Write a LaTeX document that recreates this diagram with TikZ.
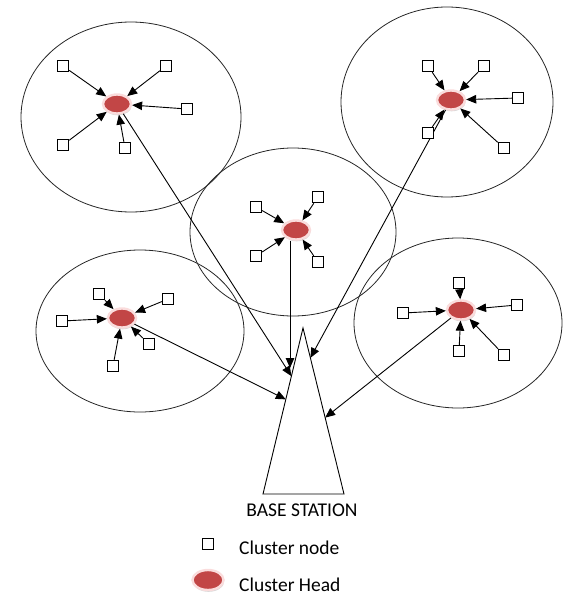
\documentclass[tikz,border=0pt]{standalone}
\usepackage{fontspec}
\setmainfont{Carlito}
\usetikzlibrary{shapes.geometric,arrows.meta,shadows,calc}
\definecolor{chred}{RGB}{194,70,70}
\definecolor{chrim}{RGB}{250,220,220}
\begin{document}
\begin{tikzpicture}[x=1pt,y=-1pt,
  cluster/.style={draw=black!85,line width=0.8pt,ellipse,inner sep=0pt},
  sensor/.style={draw=black,line width=0.9pt,fill=white,minimum width=11.5pt,minimum height=11.5pt,inner sep=0pt},
  chead/.style={ellipse,fill=chred,draw=chrim,line width=2.4pt,minimum width=28pt,minimum height=19pt,inner sep=0pt,
     drop shadow={shadow xshift=0.6pt,shadow yshift=-1.8pt,fill=black!30}},
  arr/.style={draw=black,line width=0.9pt,-{Triangle[length=10pt,width=8.5pt]}},
  lbl/.style={font=\fontsize{19.5}{22}\selectfont,inner sep=0pt}]
\useasboundingbox (0,0) rectangle (563,596);
% cluster areas
\node[cluster,minimum width=220pt,minimum height=190pt] (e1) at (131,117) {};
\node[cluster,minimum width=212pt,minimum height=190pt] (e2) at (447,102) {};
\node[cluster,minimum width=206pt,minimum height=168pt] (e3) at (293,232) {};
\node[cluster,minimum width=208pt,minimum height=162pt] (e4) at (140,331) {};
\node[cluster,minimum width=208pt,minimum height=170pt] (e5) at (458,323) {};
% base station
\coordinate (apex) at (303,328);
\coordinate (bl) at (263,494);
\coordinate (br) at (344,494);
\draw[line width=0.9pt] (apex) -- (bl) -- (br) -- cycle;
\node[lbl] (bs) at (302,510) {BASE STATION};
\coordinate (t1) at ($(apex)!0.29!(bl)$);
\coordinate (t4) at ($(apex)!0.43!(bl)$);
\coordinate (t2) at ($(apex)!0.18!(br)$);
\coordinate (t5) at ($(apex)!0.54!(br)$);
\coordinate (t3) at (290,368);
% cluster heads
\node[chead] (c1) at (117,104) {};
\node[chead] (c2) at (451,100) {};
\node[chead] (c3) at (296,230) {};
\node[chead] (c4) at (122,318) {};
\node[chead] (c5) at (461,310) {};
% heads to base station
\draw[arr] (c1) -- (t1);
\draw[arr] (c2) -- (t2);
\draw[arr] (t3 |- c3.south) -- (t3);
\draw[arr] (c4) -- (t4);
\draw[arr] (c5) -- (t5);
% cluster 1
\node[sensor] (s11) at (63,66) {};
\node[sensor] (s12) at (166,66) {};
\node[sensor] (s13) at (187,109) {};
\node[sensor] (s14) at (63,145) {};
\node[sensor] (s15) at (125,148) {};
\foreach \s in {s11,s12,s13,s14,s15} \draw[arr] (\s) -- (c1);
% cluster 2
\node[sensor] (s21) at (428,66) {};
\node[sensor] (s22) at (484,66) {};
\node[sensor] (s23) at (518,98) {};
\node[sensor] (s24) at (428,133) {};
\node[sensor] (s25) at (504,148) {};
\foreach \s in {s21,s22,s23,s24,s25} \draw[arr] (\s) -- (c2);
% cluster 3
\node[sensor] (s31) at (256,207) {};
\node[sensor] (s32) at (318,197) {};
\node[sensor] (s33) at (256,256) {};
\node[sensor] (s34) at (318,262) {};
\foreach \s in {s31,s32,s33,s34} \draw[arr] (\s) -- (c3);
% cluster 4
\node[sensor] (s41) at (99,294) {};
\node[sensor] (s42) at (168,299) {};
\node[sensor] (s43) at (62,321) {};
\node[sensor] (s44) at (149,344) {};
\node[sensor] (s45) at (113,366) {};
\foreach \s in {s41,s42,s43,s44,s45} \draw[arr] (\s) -- (c4);
% cluster 5
\node[sensor] (s51) at (459,283) {};
\node[sensor] (s52) at (517,305) {};
\node[sensor] (s53) at (403,313) {};
\node[sensor] (s54) at (459,351) {};
\node[sensor] (s55) at (504,355) {};
\foreach \s in {s51,s52,s53,s54,s55} \draw[arr] (\s) -- (c5);
% legend
\node[sensor] (lgs) at (208,544) {};
\node[lbl,anchor=west] (lgst) at (239,548) {Cluster node};
\node[chead,minimum width=31pt,minimum height=20pt] (lgc) at (208,580) {};
\node[lbl,anchor=west] (lgct) at (239,585) {Cluster Head};
\end{tikzpicture}
\end{document}
